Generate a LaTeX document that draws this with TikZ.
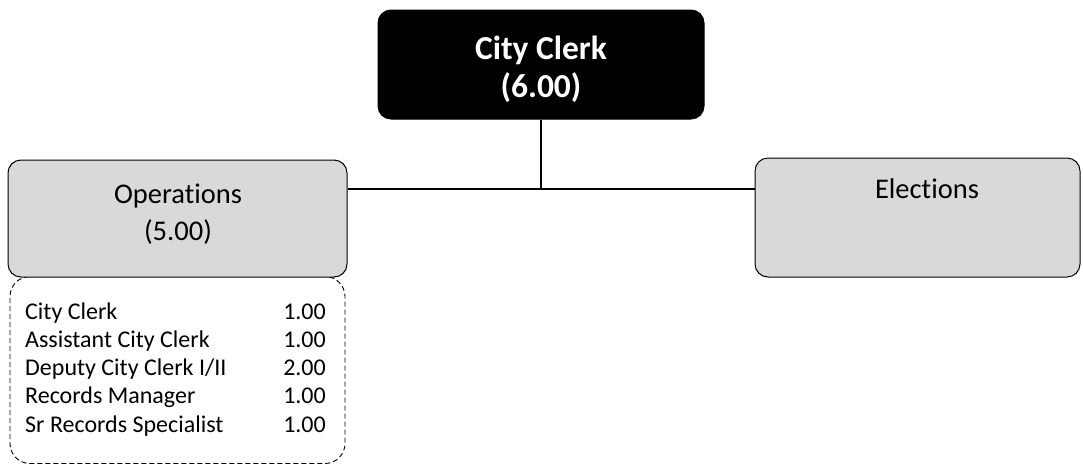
\documentclass[tikz,border=0pt]{standalone}
\usepackage{fontspec}
\setmainfont{Carlito}[Ligatures=NoCommon]
\begin{document}
\begin{tikzpicture}[x=1pt,y=-1pt,
  box/.style={draw=black, line width=1pt, rounded corners=13pt, inner sep=0pt},
  graybox/.style={box, fill=boxgray},
  listbox/.style={draw=black, line width=0.9pt, dash pattern=on 5pt off 3pt, rounded corners=20pt, inner sep=0pt},
  conn/.style={draw=black, line width=1.1pt},
  item/.style={font=\fontsize{24}{28}\selectfont, inner sep=0pt},
]
\definecolor{boxgray}{HTML}{D9D9D9}
\useasboundingbox (0,0) rectangle (1083,464);
% boxes
\node[box, fill=black, minimum width=326pt, minimum height=109pt] (top) at (541,64.5) {};
\node[font=\bfseries\fontsize{33.5}{38}\selectfont, text=white, align=center, inner sep=0pt, anchor=base] (toptxt) at (541,97) {City Clerk\\(6.00)};
\node[listbox, minimum width=335pt, minimum height=187pt] (list) at (177.5,370) {};
\node[graybox, minimum width=339pt, minimum height=117pt] (ops) at (177.5,218.5) {};
\node[font=\fontsize{28.5}{37}\selectfont, align=center, inner sep=0pt, anchor=base] (opstxt) at (178,240) {Operations\\(5.00)};
\node[graybox, minimum width=325pt, minimum height=119pt] (elec) at (917.5,217.5) {};
\node[font=\fontsize{28.5}{37}\selectfont, anchor=base, inner sep=0pt] (electxt) at (927,198) {Elections};
% connectors
\coordinate (j) at (543,189);
\draw[conn] (top.south) -- (top.south |- j);
\draw[conn] (j -| ops.east) -- (j -| elec.west);
% list
\node[item, anchor=base west] (r1) at (25,319) {City Clerk};
\node[item, anchor=base west] (r2) at (25,347.3) {Assistant City Clerk};
\node[item, anchor=base west] (r3) at (25,375.6) {Deputy City Clerk I/II};
\node[item, anchor=base west] (r4) at (25,403.9) {Records Manager};
\node[item, anchor=base west] (r5) at (25,432.2) {Sr Records Specialist};
\node[item, anchor=base east] (v1) at (326,319) {1.00};
\node[item, anchor=base east] (v2) at (326,347.3) {1.00};
\node[item, anchor=base east] (v3) at (326,375.6) {2.00};
\node[item, anchor=base east] (v4) at (326,403.9) {1.00};
\node[item, anchor=base east] (v5) at (326,432.2) {1.00};
\end{tikzpicture}
\end{document}
